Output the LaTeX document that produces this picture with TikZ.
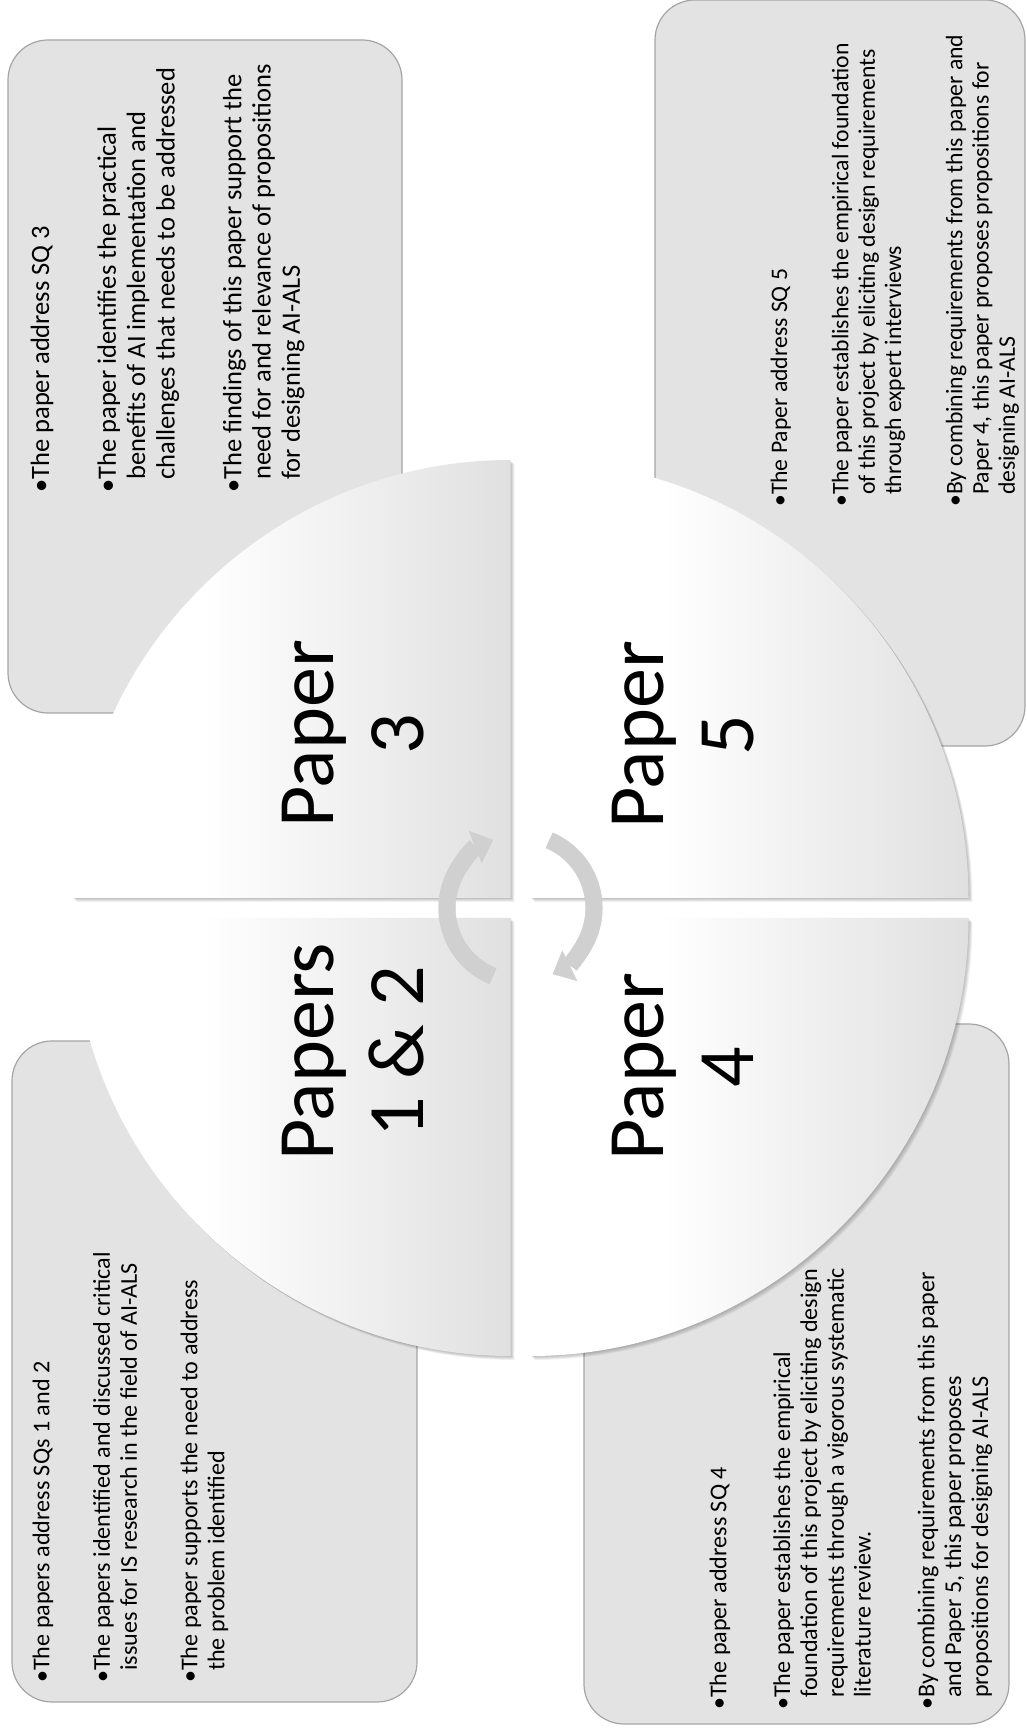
\documentclass[tikz,border=0pt]{standalone}
\usepackage{fontspec}
\setmainfont{Carlito}
\usetikzlibrary{arrows.meta}
\definecolor{boxfill}{RGB}{227,227,227}
\definecolor{boxline}{RGB}{165,165,165}
\definecolor{qgray}{RGB}{224,224,224}
\definecolor{arrowgray}{RGB}{208,208,208}
\pgfdeclarehorizontalshading{quadshade}{100bp}{color(0bp)=(white); color(40bp)=(white); color(75bp)=(qgray); color(100bp)=(qgray)}
\newcommand\bl{•}
\newcommand\ind{\phantom{•}}
% quadrant: corner x, corner y, start angle, end angle
\newcommand\drawquad[4]{%
  \foreach \k in {1,...,5}{\fill[black,opacity=0.05] ([shift={(\k*0.8,-\k*0.8)}]#1,#2) -- ++(#3:438) arc[start angle=#3,end angle=#4,radius=438] -- cycle;}
  \shade[shading=quadshade] (#1,#2) -- ++(#3:438) arc[start angle=#3,end angle=#4,radius=438] -- cycle;
}
\begin{document}
\begin{tikzpicture}[x=1pt,y=1pt,
  infobox/.style={draw=boxline, line width=1.2pt, fill=boxfill, rounded corners=40pt, inner sep=0, outer sep=0},
  infotext/.style n args={2}{rotate=90, anchor=north west, align=left, inner sep=0, font={\fontsize{#1}{#2}\selectfont}},
  lbl/.style={rotate=90, anchor=center, align=center, inner sep=0, font={\fontsize{80}{90}\selectfont}},
  cyclearrow/.style={draw=arrowgray, line width=17pt, -{Triangle[width=34pt,length=19pt,line width=0pt]}}]
\fill[white] (0,0) rectangle (1026,1733);
\useasboundingbox (0,0) rectangle (1026,1733);

% text boxes
\node[infobox, minimum width=394pt, minimum height=673pt] (boxTL) at (205,1356.5) {};
\node[infobox, minimum width=370pt, minimum height=746pt] (boxTR) at (840,1360) {};
\node[infobox, minimum width=405pt, minimum height=661pt] (boxBL) at (214.5,361.5) {};
\node[infobox, minimum width=425pt, minimum height=700pt] (boxBR) at (796.5,359) {};

\node[infotext={26.5}{29.3}] (txtTL) at (30.5,1240) {\bl The paper address SQ 3\\[37.5pt]
\bl The paper identifies the practical\\
\ind benefits of AI implementation and\\
\ind challenges that needs to be addressed\\[37.5pt]
\bl The findings of this paper support the\\
\ind need for and relevance of propositions\\
\ind for designing AI-ALS};

\node[infotext={23.7}{26.3}] (txtTR) at (770.5,1226) {\bl The Paper address SQ 5\\[35pt]
\bl The paper establishes the empirical foundation\\
\ind of this project by eliciting design requirements\\
\ind through expert interviews\\[35pt]
\bl By combining requirements from this paper and\\
\ind Paper 4, this paper proposes propositions for\\
\ind designing AI-ALS};

\node[infotext={24.1}{27}] (txtBL) at (32.5,50) {\bl The papers address SQs 1 and 2\\[33.5pt]
\bl The papers identified and discussed critical\\
\ind issues for IS research in the field of AI-ALS\\[33.5pt]
\bl The paper supports the need to address\\
\ind the problem identified};

\node[infotext={24.1}{26.8}] (txtBR) at (709.5,23) {\bl The paper address SQ 4\\[37pt]
\bl The paper establishes the empirical\\
\ind foundation of this project by eliciting design\\
\ind requirements through a vigorous systematic\\
\ind literature review.\\[37pt]
\bl By combining requirements from this paper\\
\ind and Paper 5, this paper proposes\\
\ind propositions for designing AI-ALS};

% quadrants
\drawquad{510.5}{835}{180}{90}
\drawquad{530.5}{835}{90}{0}
\drawquad{510.5}{815}{270}{180}
\drawquad{530.5}{815}{0}{-90}

% labels
\node[lbl] (p3) at (353,999) {Paper\\3};
\node[lbl] (p5) at (683,998) {Paper\\5};
\node[lbl] (p12) at (353,681) {Papers\\1 \& 2};
\node[lbl] (p4) at (683,666) {Paper\\4};

% cycle arrows
\coordinate (C) at (520.5,825);
\begin{scope}[shift={(2.5,-2.5)}]
\draw[cyclearrow, draw=black, opacity=0.1] (C) ++(248:73.5) arc[start angle=248,end angle=112,radius=73.5];
\draw[cyclearrow, draw=black, opacity=0.1] (C) ++(67:73.5) arc[start angle=67,end angle=-64,radius=73.5];
\end{scope}
\draw[cyclearrow] (C) ++(248:73.5) arc[start angle=248,end angle=112,radius=73.5];
\draw[cyclearrow] (C) ++(67:73.5) arc[start angle=67,end angle=-64,radius=73.5];
\end{tikzpicture}
\end{document}
